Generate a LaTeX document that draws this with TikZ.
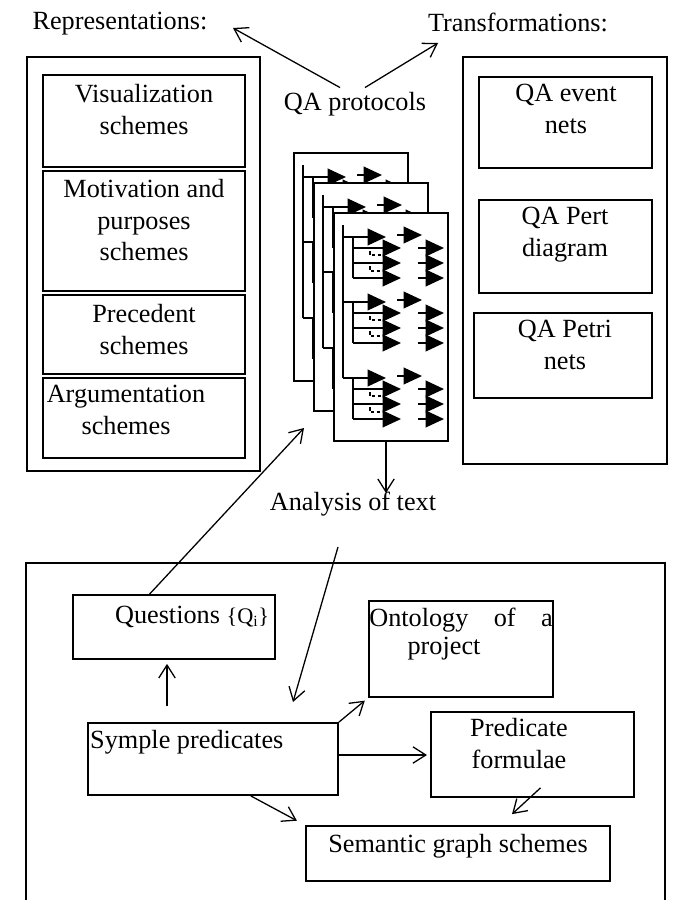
\documentclass[tikz,border=0pt]{standalone}
\usepackage{fontspec}
\setmainfont{Liberation Serif}
\usetikzlibrary{arrows.meta,fit,calc}

\tikzset{
    box/.style={draw, line width=1.5pt, inner sep=0pt},
    txt/.style={inner sep=0pt, font={\fontsize{22.4}{27}\selectfont}},
    mtxt/.style={txt, align=center, anchor=north},
    link/.style={line width=1.1pt, -{Straight Barb[length=11pt,width=14pt]}},
    tree/.style={line width=1.4pt},
    tri/.style={tree, -{Triangle[length=0.55cm,width=0.5cm]}},
    dashpart/.style={line width=1pt, densely dashed}
}

%% one sheet of the QA protocol: name, left, top
\newcommand{\qasheet}[3]{%
    \node[box, fill=white, fit={(#2,#3) ({#2+114},{#3+228})}] (#1) {};
    \begin{scope}[shift={(#2,#3)}]
        \draw[tree] (9,12) -- (9,165);
        \foreach \g in {24,89,165}{
            \draw[tri] (9,\g) -- (52,\g);
            \draw[tri] (63,\g-2) -- (88,\g-2);
            \draw[tree] (19,\g) -- (19,\g+41);
            \foreach \b in {11,26,41}{
                \draw[tri] (19,\g+\b) -- (67,\g+\b);
                \draw[tri] (84,\g+\b) -- (110,\g+\b);
            }
            \draw[dashpart] (36,\g+14) -- (36,\g+18) -- (50,\g+18);
            \draw[dashpart] (36,\g+29) -- (36,\g+34) -- (50,\g+34);
        }
    \end{scope}}

\begin{document}
\begin{tikzpicture}[x=0.03cm, y=-0.03cm]
    \useasboundingbox (0,0) rectangle (673,900);

    %% headings
    \node[txt, anchor=base] (rep) at (120,30) {Representations:};
    \node[txt, anchor=base] (trans) at (518,32) {Transformations:};
    \node[txt, anchor=base] (qa) at (355,111) {QA protocols};
    \coordinate (rep-tip) at (233,28);
    \coordinate (trans-tip) at (438,43);
    \draw[link] ($(qa.north)+(-15,-5)$) -- (rep-tip);
    \draw[link] ($(qa.north)+(10,-5)$) -- (trans-tip);

    %% representations
    \node[box, fit={(27,57) (260,471)}] (repbox) {};
        \node[box, fit={(43,75) (245,167)}] (vis) {};
            \node[mtxt] (vis-t) at (144,84) {Visualization\\schemes};
        \node[box, fit={(43,171) (245,291)}] (mot) {};
            \node[mtxt] (mot-t) at (144,179) {Motivation and\\purposes\\schemes};
        \node[box, fit={(43,295) (245,374)}] (pre) {};
            \node[mtxt] (pre-t) at (144,304) {Precedent\\schemes};
        \node[box, fit={(43,378) (245,458)}] (arg) {};
            \node[mtxt] (arg-t) at (126,385) {Argumentation\\schemes};

    %% transformations
    \node[box, fit={(463,57) (667,464)}] (transbox) {};
        \node[box, fit={(479,77) (652,168)}] (evt) {};
            \node[mtxt] (evt-t) at (566,84) {QA event\\nets};
        \node[box, fit={(479,200) (652,293)}] (pert) {};
            \node[mtxt] (pert-t) at (565,207) {QA Pert\\diagram};
        \node[box, fit={(474,313) (652,398)}] (petri) {};
            \node[mtxt] (petri-t) at (565,320) {QA Petri\\nets};

    %% protocol sheets
    \qasheet{doc1}{294}{153}
    \qasheet{doc2}{314}{183}
    \qasheet{doc3}{334}{213}

    \node[txt, anchor=base] (ana) at (353,510) {Analysis of text};
    \coordinate (ana-tip) at (386,493);
    \draw[link] (doc3.south -| ana-tip) -- (ana-tip);

    %% analysis of text
    \draw[box] (26,900) |- (665,563) -- (665,900);
        \node[box, fit={(73,595) (275,659)}] (q) {};
            \node[txt, anchor=base] (q-t) at (192,623)
                {Questions {\fontsize{19}{22}\selectfont\{Q\textsubscript{i}\}}};
        \node[box, fit={(369,601) (553,697)}] (ont) {};
            \node[txt, anchor=base] (ont-t) at (461,626) {\makebox[5.5cm]{Ontology\hfill of\hfill a}};
            \node[txt, anchor=base] (ont-u) at (444,654) {project};
        \node[box, fit={(88,723) (338,795)}] (sym) {};
            \node[txt, anchor=base west] (sym-t) at (90,748) {Symple predicates};
        \node[box, fit={(431,712) (634,797)}] (pred) {};
            \node[mtxt] (pred-t) at (519,718) {Predicate\\formulae};
        \node[box, fit={(306,826) (610,881)}] (sem) {};
            \node[txt, anchor=base] (sem-t) at (458,852) {Semantic graph schemes};

    \coordinate (q-tip) at (304,428);
    \coordinate (ana-out) at (338,547);
    \coordinate (sym-in) at (293,702);
    \coordinate (q-up) at (167,700);
    \coordinate (pred-in) at (427,755);
    \draw[link] ($(q.north west)!0.38!(q.north east)$) -- (q-tip);
    \draw[link] (ana-out) -- (sym-in);
    \draw[link, shorten <=0.48cm, shorten >=0.12cm] (sym.north -| q-up) -- (q.south -| q-up);
    \draw[link, shorten >=0.13cm] (sym.north east) -- (ont.south west);
    \draw[link] (sym.east |- pred-in) -- (pred-in);
    \draw[link, shorten >=0.28cm] ($(sym.south west)!0.65!(sym.south east)$) -- (sem.north west);
    \draw[link] ($(pred.south)+(8,-10)$) -- ($(sem.north)+(54,-11)$);
\end{tikzpicture}
\end{document}
